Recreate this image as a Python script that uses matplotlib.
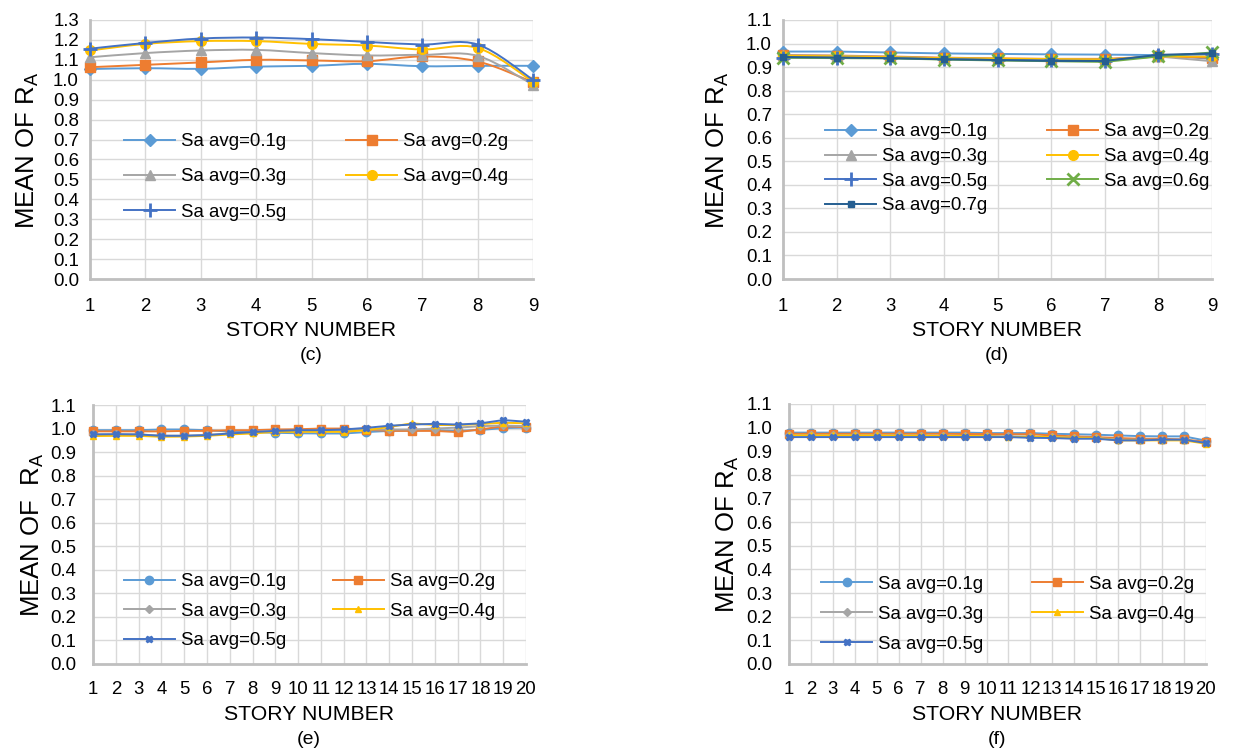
import numpy as np
import matplotlib.pyplot as plt
from matplotlib.path import Path
from matplotlib.patches import PathPatch
from matplotlib.lines import Line2D

plt.rcParams['font.family'] = ['Liberation Sans', 'DejaVu Sans']
plt.rcParams['mathtext.default'] = 'regular'

# story numbers
stories_9 = list(range(1, 10))
stories_20 = list(range(1, 21))

# (c) 9-story, mean R_A per story
c_01 = [1.054, 1.058, 1.055, 1.066, 1.070, 1.080, 1.068, 1.070, 1.070]
c_02 = [1.063, 1.075, 1.087, 1.100, 1.097, 1.093, 1.117, 1.092, 0.988]
c_03 = [1.113, 1.134, 1.147, 1.150, 1.134, 1.122, 1.125, 1.120, 0.975]
c_04 = [1.147, 1.180, 1.194, 1.194, 1.180, 1.172, 1.152, 1.160, 0.990]
c_05 = [1.156, 1.185, 1.207, 1.212, 1.204, 1.190, 1.177, 1.177, 1.000]

# (d) 9-story
d_01 = [0.966, 0.966, 0.962, 0.958, 0.956, 0.954, 0.953, 0.951, 0.935]
d_02 = [0.951, 0.949, 0.945, 0.940, 0.937, 0.935, 0.935, 0.945, 0.940]
d_03 = [0.950, 0.948, 0.943, 0.938, 0.935, 0.933, 0.932, 0.945, 0.925]
d_04 = [0.948, 0.946, 0.942, 0.938, 0.936, 0.934, 0.932, 0.945, 0.945]
d_05 = [0.940, 0.940, 0.938, 0.934, 0.930, 0.928, 0.926, 0.950, 0.955]
d_06 = [0.940, 0.938, 0.937, 0.932, 0.928, 0.925, 0.922, 0.945, 0.962]
d_07 = [0.943, 0.940, 0.938, 0.933, 0.930, 0.926, 0.926, 0.952, 0.958]

# (e) 20-story
e_01 = [0.993, 0.993, 0.993, 0.996, 0.996, 0.993, 0.987, 0.985, 0.982, 0.980,
        0.979, 0.979, 0.985, 0.990, 0.992, 0.993, 0.990, 0.994, 1.002, 1.004]
e_02 = [0.988, 0.988, 0.988, 0.988, 0.990, 0.990, 0.993, 0.993, 0.996, 0.997,
        1.000, 1.000, 0.995, 0.990, 0.990, 0.990, 0.985, 0.996, 1.010, 1.006]
e_03 = [0.975, 0.975, 0.975, 0.970, 0.970, 0.973, 0.979, 0.985, 0.990, 0.990,
        0.992, 0.993, 0.996, 0.996, 0.996, 1.000, 1.004, 1.010, 1.013, 1.010]
e_04 = [0.968, 0.969, 0.969, 0.965, 0.966, 0.969, 0.975, 0.979, 0.986, 0.986,
        0.986, 0.986, 0.993, 1.007, 1.022, 1.015, 1.015, 1.019, 1.025, 1.022]
e_05 = [0.975, 0.976, 0.975, 0.969, 0.969, 0.972, 0.979, 0.985, 0.990, 0.993,
        0.993, 0.996, 1.003, 1.012, 1.017, 1.020, 1.017, 1.022, 1.036, 1.029]

# (f) 20-story
f_01 = [0.979, 0.979, 0.979, 0.979, 0.979, 0.979, 0.979, 0.979, 0.979, 0.977,
        0.977, 0.977, 0.974, 0.972, 0.970, 0.967, 0.964, 0.963, 0.963, 0.945]
f_02 = [0.974, 0.974, 0.974, 0.974, 0.974, 0.974, 0.974, 0.974, 0.973, 0.973,
        0.972, 0.972, 0.967, 0.963, 0.960, 0.956, 0.953, 0.953, 0.950, 0.940]
f_03 = [0.967, 0.967, 0.967, 0.967, 0.967, 0.967, 0.966, 0.966, 0.965, 0.965,
        0.963, 0.962, 0.960, 0.958, 0.957, 0.949, 0.949, 0.949, 0.949, 0.935]
f_04 = [0.967, 0.967, 0.967, 0.967, 0.967, 0.966, 0.966, 0.965, 0.965, 0.964,
        0.960, 0.962, 0.960, 0.957, 0.956, 0.946, 0.946, 0.946, 0.946, 0.932]
f_05 = [0.960, 0.960, 0.960, 0.960, 0.960, 0.960, 0.960, 0.960, 0.960, 0.960,
        0.960, 0.957, 0.956, 0.953, 0.953, 0.946, 0.946, 0.949, 0.949, 0.935]

labels = ['Sa avg=0.%dg' % i for i in range(1, 8)]

BLUE = '#5B9BD5'
ORANGE = '#ED7D31'
GRAY = '#A5A5A5'
GOLD = '#FFC000'
DBLUE = '#4472C4'
GREEN = '#70AD47'
NAVY = '#255E91'

W, H = 1240, 753
FS = 13.4

fig = plt.figure(figsize=(W / 100, H / 100), dpi=100)


def px_axes(l, t, r, b):
    return fig.add_axes([l / W, 1 - b / H, (r - l) / W, (b - t) / H])


def px_text(x, y, s, **kw):
    fig.text(x / W, 1 - y / H, s, ha='center', va='center', **kw)


def style_axes(ax, xs, ymax, ypad, xpad):
    ax.set_xlim(xs[0], xs[-1])
    ax.set_ylim(0, ymax)
    ax.set_xticks(xs)
    yt = np.round(np.arange(0, ymax + 0.001, 0.1), 1)
    ax.set_yticks(yt)
    ax.set_yticklabels(['%.1f' % v for v in yt])
    ax.grid(color='#D9D9D9', lw=1.0)
    ax.set_axisbelow(True)
    for s in ['top', 'right']:
        ax.spines[s].set_visible(False)
    for s in ['left', 'bottom']:
        ax.spines[s].set_color('#BFBFBF')
        ax.spines[s].set_linewidth(2.0)
    ax.tick_params(axis='both', length=0, labelsize=FS, colors='black')
    ax.tick_params(axis='y', pad=ypad)
    ax.tick_params(axis='x', pad=xpad)


def smooth_path(x, y):
    # bezier through the points, tangents from neighbouring points
    pts = list(zip(x, y))
    n = len(pts)
    verts = [pts[0]]
    codes = [Path.MOVETO]
    for i in range(n - 1):
        p0 = pts[max(i - 1, 0)]
        p1 = pts[i]
        p2 = pts[i + 1]
        p3 = pts[min(i + 2, n - 1)]
        c1 = (p1[0] + (p2[0] - p0[0]) / 6, p1[1] + (p2[1] - p0[1]) / 6)
        c2 = (p2[0] - (p3[0] - p1[0]) / 6, p2[1] - (p3[1] - p1[1]) / 6)
        verts += [c1, c2, p2]
        codes += [Path.CURVE4] * 3
    return Path(verts, codes)


def add_legend(ax, handles, x0, ymid, lsp, csp):
    n = len(handles)
    order = list(range(0, n, 2)) + list(range(1, n, 2))
    ax.legend(handles=[handles[i] for i in order], ncol=2, loc='center left',
              bbox_to_anchor=(x0, ymid), frameon=False, fontsize=FS,
              handlelength=2.75, handletextpad=0.32, columnspacing=csp,
              labelspacing=lsp, borderpad=0, borderaxespad=0)


ylab = r'MEAN OF R$_A$'
XFS = 15.3

# ---- (c)
ax = px_axes(90, 20, 533, 279)
style_axes(ax, stories_9, 1.3, 8, 14)
c_style = [(c_01, BLUE, 'D', 6), (c_02, ORANGE, 's', 7), (c_03, GRAY, '^', 7),
           (c_04, GOLD, 'o', 7), (c_05, DBLUE, '+', 10)]
handles = []
for k, (ys, col, mk, ms) in enumerate(c_style):
    ax.add_patch(PathPatch(smooth_path(stories_9, ys), fill=False,
                           edgecolor=col, lw=1.4, clip_on=False, zorder=3 + k))
    ax.plot(stories_9, ys, ls='none', marker=mk, ms=ms, color=col,
            mew=2 if mk == '+' else 1, clip_on=False, zorder=3 + k)
    handles.append(Line2D([], [], color=col, lw=1.4, marker=mk, ms=ms,
                          mew=2 if mk == '+' else 1, label=labels[k]))
add_legend(ax, handles, 0.077, 0.394, 0.97, 3.2)
px_text(28, 150, ylab, rotation=90, fontsize=18.5)
px_text(311, 330, 'STORY NUMBER', fontsize=XFS)
px_text(311, 355, '(c)', fontsize=14)

# ---- (d)
ax = px_axes(783, 20, 1212, 279)
style_axes(ax, stories_9, 1.1, 8, 14)
d_style = [(d_01, BLUE, 'D', 6), (d_02, ORANGE, 's', 7), (d_03, GRAY, '^', 7),
           (d_04, GOLD, 'o', 7), (d_05, DBLUE, '+', 10), (d_06, GREEN, 'x', 8),
           (d_07, NAVY, 's', 4)]
for k, (ys, col, mk, ms) in enumerate(d_style):
    ax.plot(stories_9, ys, color=col, lw=1.4, marker=mk, ms=ms,
            mew=2 if mk in '+x' else 1, clip_on=False, zorder=3 + k,
            label=labels[k])
handles, _ = ax.get_legend_handles_labels()
add_legend(ax, handles, 0.098, 0.425, 0.41, 3.2)
px_text(718, 150, ylab, rotation=90, fontsize=18.5)
px_text(997, 330, 'STORY NUMBER', fontsize=XFS)
px_text(997, 355, '(d)', fontsize=14)

# ---- (e)
ax = px_axes(93, 405, 526, 664)
style_axes(ax, stories_20, 1.1, 12, 12)
e_style = [(e_01, BLUE, 'o', 6), (e_02, ORANGE, 's', 6), (e_03, GRAY, 'D', 4),
           (e_04, GOLD, '^', 5), (e_05, DBLUE, 'X', 5)]
for k, (ys, col, mk, ms) in enumerate(e_style):
    ax.plot(stories_20, ys, color=col, lw=1.4, marker=mk, ms=ms,
            clip_on=False, zorder=3 + k, label=labels[k])
handles, _ = ax.get_legend_handles_labels()
add_legend(ax, handles, 0.071, 0.203, 0.67, 2.5)
px_text(33, 535, r'MEAN OF  R$_A$', rotation=90, fontsize=18.5)
px_text(309, 714, 'STORY NUMBER', fontsize=XFS)
px_text(309, 739, '(e)', fontsize=14)

# ---- (f)
ax = px_axes(789, 404, 1206, 664)
style_axes(ax, stories_20, 1.1, 12, 12)
f_style = [(f_01, BLUE, 'o', 6), (f_02, ORANGE, 's', 6), (f_03, GRAY, 'D', 4),
           (f_04, GOLD, '^', 5), (f_05, DBLUE, 'X', 5)]
for k, (ys, col, mk, ms) in enumerate(f_style):
    ax.plot(stories_20, ys, color=col, lw=1.4, marker=mk, ms=ms,
            clip_on=False, zorder=3 + k, label=labels[k])
handles, _ = ax.get_legend_handles_labels()
add_legend(ax, handles, 0.077, 0.192, 0.70, 2.6)
px_text(728, 534, ylab, rotation=90, fontsize=18.5)
px_text(997, 714, 'STORY NUMBER', fontsize=XFS)
px_text(997, 739, '(f)', fontsize=14)

fig.savefig('out.png', dpi=100)
